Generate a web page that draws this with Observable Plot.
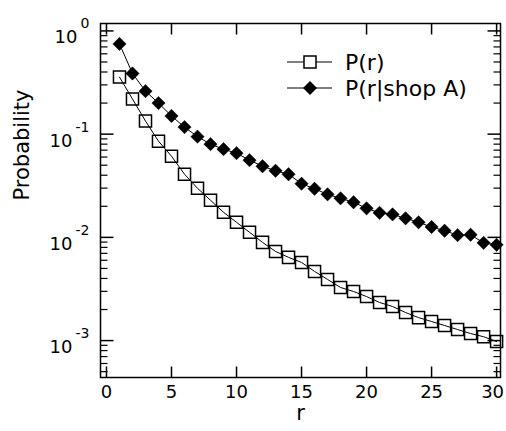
<!DOCTYPE html>
<html>
<head>
<meta charset="utf-8">
<script src="https://cdn.jsdelivr.net/npm/d3@7"></script>
<script src="https://cdn.jsdelivr.net/npm/@observablehq/plot@0.6"></script>
<style>
  html, body { margin: 0; padding: 0; background: #fff; }
  svg { font-family: "DejaVu Sans", sans-serif; }
</style>
</head>
<body>
<div id="chart"></div>
<script>
const ranks = [1,2,3,4,5,6,7,8,9,10,11,12,13,14,15,16,17,18,19,20,21,22,23,24,25,26,27,28,29,30];
const pR = [0.357,0.219,0.134,0.0855,0.0611,0.0409,0.0299,0.0229,0.0175,0.0140,
            0.0112,0.00894,0.00731,0.00640,0.00572,0.00468,0.00391,0.00327,0.00299,0.00267,
            0.00234,0.00214,0.00187,0.00167,0.00153,0.00140,0.00128,0.00117,0.00109,0.00098];
const pRShopA = [0.748,0.387,0.261,0.200,0.150,0.117,0.0946,0.0800,0.0715,0.0654,
                 0.0560,0.0489,0.0442,0.0409,0.0331,0.0296,0.0261,0.0239,0.0219,0.0191,
                 0.0173,0.0167,0.0153,0.0140,0.0126,0.0116,0.0105,0.0106,0.00885,0.00846];
const seriesNames = ["P(r)", "P(r|shop A)"];
const xTicks = [0,5,10,15,20,25,30];
const yMajor = [1, 0.1, 0.01, 0.001];
const yExponents = ["0", "-1", "-2", "-3"];
const yMinor = [0.0005,0.0006,0.0007,0.0008,0.0009,
                0.002,0.003,0.004,0.005,0.006,0.007,0.008,0.009,
                0.02,0.03,0.04,0.05,0.06,0.07,0.08,0.09,
                0.2,0.3,0.4,0.5,0.6,0.7,0.8,0.9];

const dataA = ranks.map((r, i) => ({r, p: pR[i]}));
const dataB = ranks.map((r, i) => ({r, p: pRShopA[i]}));

const font = {fontFamily: "DejaVu Sans", fill: "black"};

// inward tick shapes (symbol types with a draw method)
const tickShape = (dx, dy) => ({draw(ctx) { ctx.moveTo(0, 0); ctx.lineTo(dx, dy); }});
const tickUp = tickShape(0, -11), tickDown = tickShape(0, 11);
const majRight = tickShape(13, 0), majLeft = tickShape(-13, 0);
const minRight = tickShape(7, 0), minLeft = tickShape(-7, 0);
const tk = (data, chan, anchor, symbol, sw) =>
  Plot.dot(data, {[chan]: d => d, frameAnchor: anchor, symbol, r: 5, stroke: "black", fill: "none", strokeWidth: sw});

const chart = Plot.plot({
  width: 506,
  height: 431,
  marginLeft: 100,
  marginRight: 6,
  marginTop: 23,
  marginBottom: 54,
  style: {background: "white", fontFamily: "DejaVu Sans"},
  x: {domain: [-0.46, 30.3], label: null, axis: null},
  y: {type: "log", domain: [4.39e-4, 1.18], label: null, axis: null},
  marks: [
    // inward ticks on all four sides
    tk(xTicks, "x", "bottom", tickUp, 1.5),
    tk(xTicks, "x", "top", tickDown, 1.5),
    tk(yMajor, "y", "left", majRight, 1.5),
    tk(yMajor, "y", "right", majLeft, 1.5),
    tk(yMinor, "y", "left", minRight, 1.2),
    tk(yMinor, "y", "right", minLeft, 1.2),
    // x tick labels
    Plot.text(xTicks.slice(0, -1), {x: d => d, frameAnchor: "bottom", dy: 20, text: d => String(d), fontSize: 18, ...font}),
    Plot.text(xTicks.slice(-1), {x: d => d, frameAnchor: "bottom", dy: 20, dx: -4, text: d => String(d), fontSize: 18, ...font}),
    // y tick labels: base and exponent
    Plot.text(yMajor.slice(0, 1), {y: d => d, frameAnchor: "left", dx: -23, dy: 6, text: () => "10", textAnchor: "end", fontSize: 18, ...font}),
    Plot.text(yMajor.slice(1), {y: d => d, frameAnchor: "left", dx: -28, dy: 7, text: () => "10", textAnchor: "end", fontSize: 18, ...font}),
    Plot.text(yMajor, {y: d => d, frameAnchor: "left", dx: -11, dy: -7, text: (d, i) => yExponents[i], textAnchor: "end", fontSize: 14, ...font}),
    // axis labels
    Plot.text(["Probability"], {frameAnchor: "left", dx: -78, rotate: -90, text: d => d, fontSize: 21, ...font}),
    Plot.text(["r"], {frameAnchor: "bottom", dy: 42, text: d => d, fontSize: 21, ...font}),
    // data
    Plot.line(dataA, {x: "r", y: "p", stroke: "black", strokeWidth: 1}),
    Plot.line(dataB, {x: "r", y: "p", stroke: "black", strokeWidth: 1}),
    Plot.dot(dataA, {x: "r", y: "p", symbol: "square", r: 6.8, stroke: "black", fill: "none", strokeWidth: 1.5}),
    Plot.dot(dataB, {x: "r", y: "p", symbol: "diamond2", r: 6, fill: "black", stroke: "black", strokeWidth: 0.5}),
    Plot.frame({stroke: "black", strokeWidth: 1.5})
  ]
});

// Legend inside the plot area (upper right)
const svg = d3.select(chart);
const legend = svg.append("g").attr("transform", "translate(287,62)").attr("text-anchor", "start");
seriesNames.forEach((name, i) => {
  const g = legend.append("g").attr("transform", `translate(0,${i * 26})`);
  g.append("line").attr("x1", 0).attr("x2", 45).attr("y1", 0).attr("y2", 0)
    .attr("stroke", "black").attr("stroke-width", 1.2);
  if (i === 0) {
    g.append("rect").attr("x", 23 - 6).attr("y", -6).attr("width", 12).attr("height", 12)
      .attr("fill", "white").attr("stroke", "black").attr("stroke-width", 1.5);
  } else {
    g.append("path").attr("d", "M23,-7L30,0L23,7L16,0Z").attr("fill", "black");
  }
  g.append("text").attr("x", 58).attr("y", 0).attr("dy", "0.35em")
    .attr("text-anchor", "start")
    .attr("font-family", "DejaVu Sans").attr("font-size", 22).attr("fill", "black")
    .text(name);
});

document.getElementById("chart").appendChild(chart);
</script>
</body>
</html>
